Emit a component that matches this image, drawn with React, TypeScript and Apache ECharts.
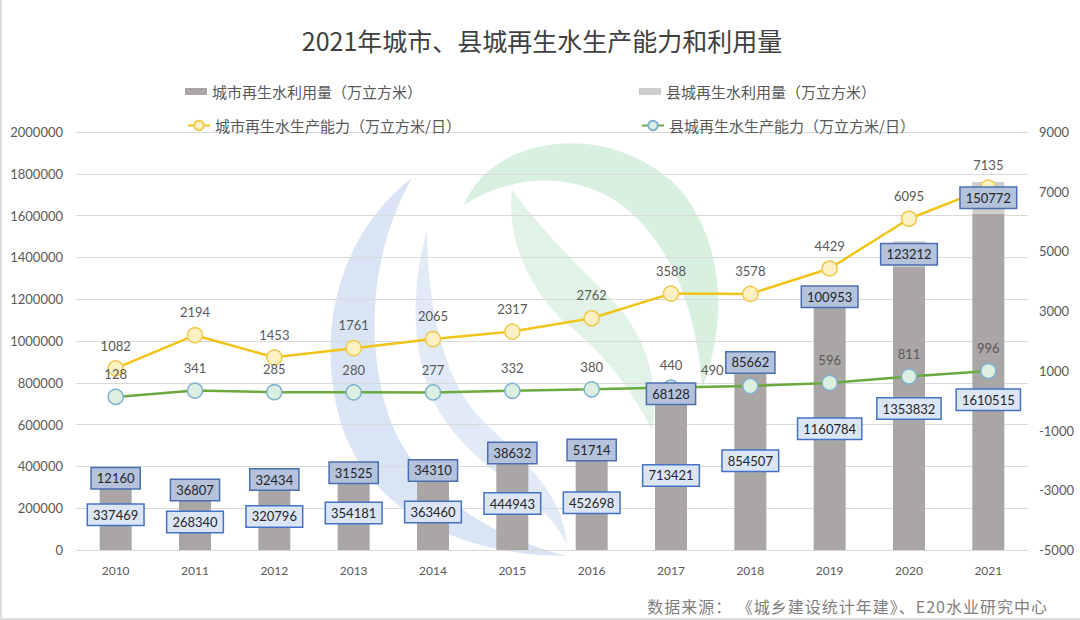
import React, { useEffect, useRef } from "react";
import * as echarts from "echarts";

const years = ["2010", "2011", "2012", "2013", "2014", "2015", "2016", "2017", "2018", "2019", "2020", "2021"];
const cityUse = [337469, 268340, 320796, 354181, 363460, 444943, 452698, 713421, 854507, 1160784, 1353832, 1610515];
const countyUse = [12160, 36807, 32434, 31525, 34310, 38632, 51714, 68128, 85662, 100953, 123212, 150772];
const cityCap = [1082, 2194, 1453, 1761, 2065, 2317, 2762, 3588, 3578, 4429, 6095, 7135];
const countyCap = [128, 341, 285, 280, 277, 332, 380, 440, 490, 596, 811, 996];

const NAME_CITY_USE = "城市再生水利用量（万立方米）";
const NAME_COUNTY_USE = "县城再生水利用量（万立方米）";
const NAME_CITY_CAP = "城市再生水生产能力（万立方米/日）";
const NAME_COUNTY_CAP = "县城再生水生产能力（万立方米/日）";

const TEXT = "#595959";
const CJK = "'Noto Sans CJK SC', 'Noto Sans', sans-serif";
const NUM = "Lato, 'Open Sans', sans-serif";

echarts.graphic.registerShape(
  "wmBlueA",
  echarts.graphic.extendPath("M 410 178 C 335 235 310 340 342 432 C 372 512 460 556 565 556 C 480 535 402 482 382 400 C 362 320 375 240 410 178 Z", {})
);
echarts.graphic.registerShape(
  "wmBlueB",
  echarts.graphic.extendPath("M 425 230 C 405 300 410 380 450 430 C 490 480 545 500 565 545 C 560 490 520 460 480 420 C 440 380 425 300 425 230 Z", {})
);
echarts.graphic.registerShape(
  "wmGreenC",
  echarts.graphic.extendPath("M 462 205 C 488 138 600 118 672 183 C 722 235 727 320 700 388 C 695 310 670 245 620 205 C 570 170 510 175 462 205 Z", {})
);
echarts.graphic.registerShape(
  "wmGreenD",
  echarts.graphic.extendPath("M 510 190 C 540 230 570 260 610 300 C 640 330 660 380 650 430 C 630 390 600 350 560 320 C 520 280 505 230 510 190 Z", {})
);

const cityLabelNudge: Record<number, number[]> = { 11: [0, 18] };
const countyCapLabelNudge: Record<number, number[]> = { 8: [-38, 7] };

const plain = (v: number) => String(v);

export default function App() {
  const ref = useRef<HTMLDivElement>(null);
  useEffect(() => {
    if (!ref.current) return;
    const chart = echarts.init(ref.current, undefined, { renderer: "svg" });

    const boxLabel = (bg: string, border: string) => ({
      show: true,
      position: "inside",
      color: "#262626",
      fontSize: 13,
      fontFamily: NUM,
      backgroundColor: bg,
      borderColor: border,
      borderWidth: 1.5,
      padding: [4, 5, 3, 5],
    });

    const legendBase = {
      orient: "horizontal",
      textStyle: { color: TEXT, fontSize: 15, fontFamily: CJK },
      itemWidth: 22,
    };

    const option: any = {
      animation: false,
      backgroundColor: "transparent",
      title: {
        text: "2021年城市、县城再生水生产能力和利用量",
        left: "center",
        top: 22,
        textStyle: { color: "#404040", fontSize: 25, fontWeight: "normal", fontFamily: CJK },
      },
      legend: [
        { ...legendBase, data: [NAME_CITY_USE], left: 178, top: 79, icon: "rect", itemHeight: 7 },
        { ...legendBase, data: [NAME_COUNTY_USE], left: 632, top: 79, icon: "rect", itemHeight: 7 },
        { ...legendBase, data: [NAME_CITY_CAP], left: 180, top: 113, itemHeight: 12 },
        { ...legendBase, data: [NAME_COUNTY_CAP], left: 634, top: 113, itemHeight: 12 },
      ],
      graphic: [
        { type: "wmBlueA", x: 0, y: 0, z: -10, silent: true, style: { fill: "rgba(170,195,230,0.45)" } },
        { type: "wmBlueB", x: 0, y: 0, z: -10, silent: true, style: { fill: "rgba(170,195,230,0.35)" } },
        { type: "wmGreenC", x: 0, y: 0, z: -10, silent: true, style: { fill: "rgba(180,225,195,0.5)" } },
        { type: "wmGreenD", x: 0, y: 0, z: -10, silent: true, style: { fill: "rgba(180,225,195,0.4)" } },
      ],
      grid: { left: 74, right: 54, top: 132, bottom: 70 },
      xAxis: {
        type: "category",
        data: years,
        axisLine: { lineStyle: { color: "#d9d9d9" } },
        axisTick: { show: false },
        axisLabel: { color: TEXT, fontSize: 12, fontFamily: NUM, margin: 14 },
      },
      yAxis: [
        {
          type: "value",
          min: 0,
          max: 2000000,
          interval: 200000,
          axisLine: { show: false },
          axisTick: { show: false },
          axisLabel: { color: TEXT, fontSize: 13, fontFamily: NUM, margin: 13, formatter: plain },
          splitLine: { lineStyle: { color: "#d9d9d9" } },
        },
        {
          type: "value",
          min: -5000,
          max: 9000,
          interval: 2000,
          axisLine: { show: false },
          axisTick: { show: false },
          axisLabel: { color: TEXT, fontSize: 13, fontFamily: NUM, margin: 11, formatter: plain },
          splitLine: { show: false },
        },
      ],
      series: [
        {
          name: NAME_CITY_USE,
          type: "bar",
          stack: "use",
          data: cityUse,
          barWidth: 32,
          barGap: "-100%",
          z: 1,
          itemStyle: { color: "#aaa6a6" },
        },
        {
          name: NAME_COUNTY_USE,
          type: "bar",
          stack: "use",
          data: countyUse,
          barWidth: 32,
          barGap: "-100%",
          z: 1,
          itemStyle: { color: "#cfcdcd" },
        },
        {
          name: NAME_CITY_CAP,
          type: "line",
          yAxisIndex: 1,
          data: cityCap,
          z: 2,
          symbol: "circle",
          symbolSize: 15,
          lineStyle: { color: "#f2c417", width: 2.5 },
          itemStyle: { color: "#fdf1c4", borderColor: "#f2c94c", borderWidth: 1.5 },
          label: { show: true, position: "top", distance: 8, color: TEXT, fontSize: 13, fontFamily: NUM },
        },
        {
          name: NAME_COUNTY_CAP,
          type: "line",
          yAxisIndex: 1,
          data: countyCap.map((v, i) =>
            countyCapLabelNudge[i] ? { value: v, label: { offset: countyCapLabelNudge[i] } } : v
          ),
          z: 2,
          symbol: "circle",
          symbolSize: 15,
          lineStyle: { color: "#6aaa3f", width: 2.5 },
          itemStyle: { color: "#dcefe0", borderColor: "#7fb2cf", borderWidth: 1.5 },
          label: { show: true, position: "top", distance: 8, color: TEXT, fontSize: 13, fontFamily: NUM },
        },
        {
          name: "cityUseLabel",
          type: "bar",
          stack: "useLabel",
          barWidth: 32,
          barGap: "-100%",
          z: 3,
          silent: true,
          itemStyle: { color: "transparent" },
          data: cityUse.map((v, i) =>
            cityLabelNudge[i] ? { value: v, label: { offset: cityLabelNudge[i] } } : v
          ),
          label: boxLabel("#dbe5f5", "#4472c4"),
        },
        {
          name: "countyUseLabel",
          type: "bar",
          stack: "useLabel",
          barWidth: 32,
          barGap: "-100%",
          z: 3,
          silent: true,
          itemStyle: { color: "transparent" },
          data: countyUse,
          label: boxLabel("#b4c2dc", "#4a6fb0"),
        },
      ],
    };
    chart.setOption(option);
    return () => chart.dispose();
  }, []);

  return (
    <div
      style={{
        position: "fixed",
        left: 0,
        top: 0,
        width: 1080,
        height: 620,
        background: "#fff",
        boxSizing: "border-box",
        borderLeft: "2px solid #dcdcdc",
        borderBottom: "2px solid #dcdcdc",
      }}
    >
      <div ref={ref} style={{ position: "absolute", left: 0, top: 0, width: 1080, height: 620 }} />
      <div
        style={{
          position: "absolute",
          right: 32,
          top: 595,
          color: "#7f7f7f",
          fontSize: 16,
          fontFamily: CJK,
          lineHeight: "22px",
          letterSpacing: "1px",
          whiteSpace: "pre",
        }}
      >
        数据来源： 《城乡建设统计年建》、E20水业研究中心
      </div>
    </div>
  );
}
